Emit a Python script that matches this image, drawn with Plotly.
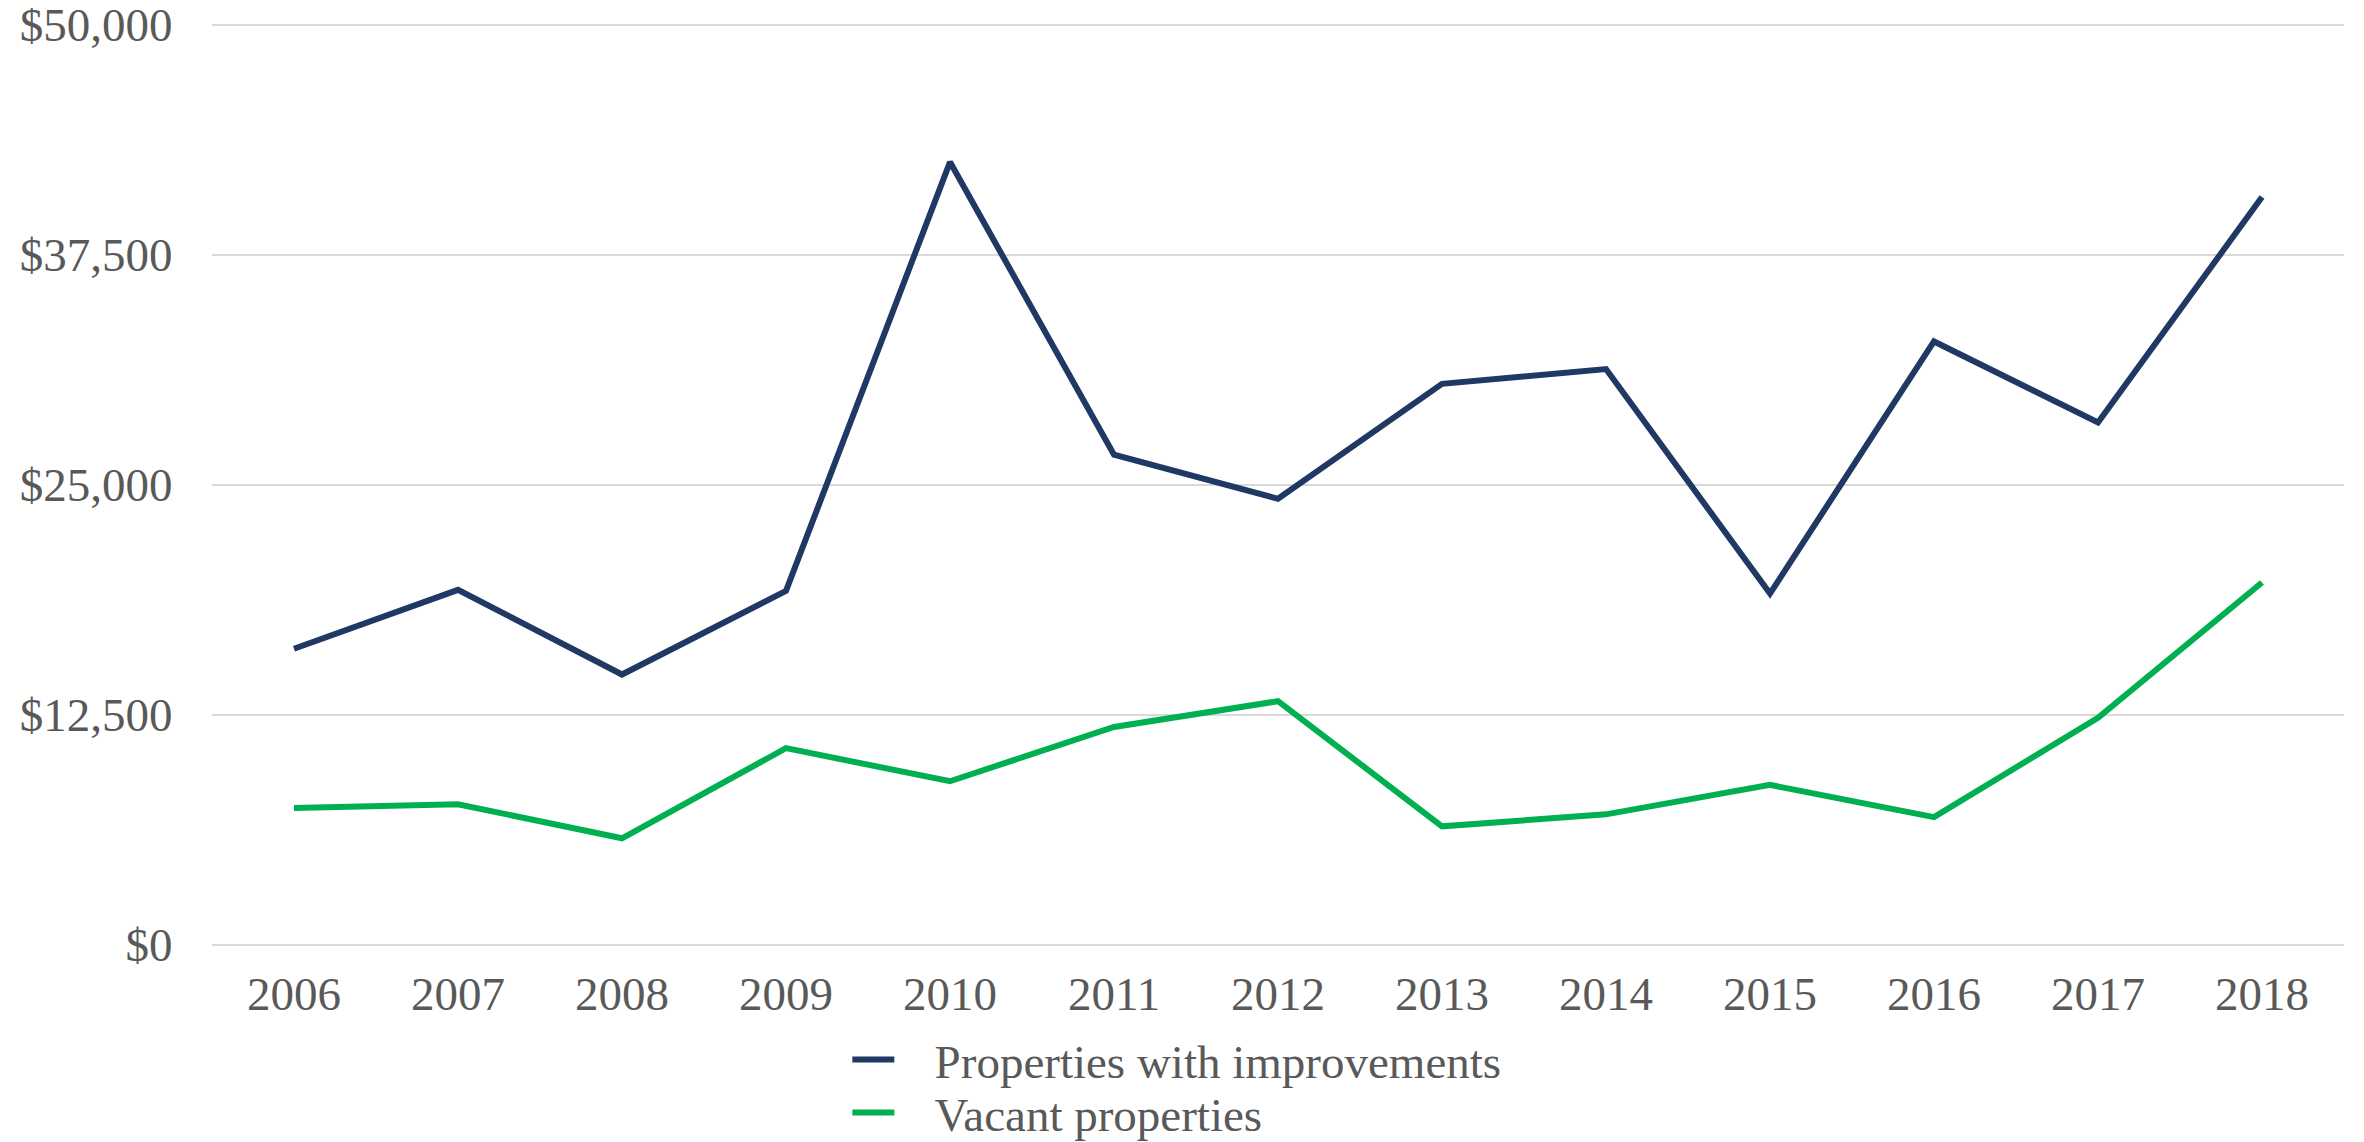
import plotly.graph_objects as go

years = ["2006", "2007", "2008", "2009", "2010", "2011", "2012",
         "2013", "2014", "2015", "2016", "2017", "2018"]
improvements = [16100, 19300, 14700, 19250, 42550, 26650, 24250,
                30500, 31300, 19100, 32800, 28400, 40650]
vacant = [7450, 7650, 5800, 10700, 8900, 11850, 13250,
          6450, 7100, 8700, 6950, 12350, 19700]
tick_vals = [0, 12500, 25000, 37500, 50000]
tick_text = ["$0", "$12,500", "$25,000", "$37,500", "$50,000"]
series_names = ["Properties with improvements", "Vacant properties"]

FONT = "Liberation Serif"
GREY = "#595959"
LEG_FONT = dict(family=FONT, size=47, color=GREY)
PAD = "\u00a0\u00a0\u00a0"

fig = go.Figure()
fig.add_trace(go.Scatter(x=years, y=improvements, mode="lines",
                         name=PAD + series_names[0],
                         line=dict(color="#203864", width=6),
                         legend="legend"))
fig.add_trace(go.Scatter(x=years, y=vacant, mode="lines",
                         name=PAD + series_names[1],
                         line=dict(color="#00B050", width=6),
                         legend="legend2"))

fig.update_layout(
    width=2356, height=1134,
    margin=dict(l=204, r=20, t=12, b=192, autoexpand=False),
    paper_bgcolor="white", plot_bgcolor="white",
    font=dict(family=FONT, size=47, color=GREY),
    showlegend=True,
    legend=dict(x=0.298, y=-0.1183, xanchor="left", yanchor="middle",
                font=LEG_FONT, bgcolor="rgba(0,0,0,0)", itemwidth=42),
    legend2=dict(x=0.298, y=-0.1753, xanchor="left", yanchor="middle",
                 font=LEG_FONT, bgcolor="rgba(0,0,0,0)", itemwidth=42),
)
fig.update_xaxes(type="category", range=[-0.5, 12.5], showgrid=False,
                 zeroline=False, showline=False, ticks="outside", ticklen=3,
                 tickcolor="rgba(0,0,0,0)", automargin=False,
                 tickfont=dict(family=FONT, size=47, color=GREY))
fig.update_yaxes(range=[-272, 50272], tickvals=tick_vals, ticktext=tick_text,
                 showgrid=True, gridcolor="#D9D9D9", gridwidth=2,
                 zeroline=False, showline=False, ticks="outside",
                 ticklen=29, tickcolor="rgba(0,0,0,0)", automargin=False,
                 ticklabeloverflow="allow",
                 tickfont=dict(family=FONT, size=47, color=GREY))

fig.write_html("out.html")
